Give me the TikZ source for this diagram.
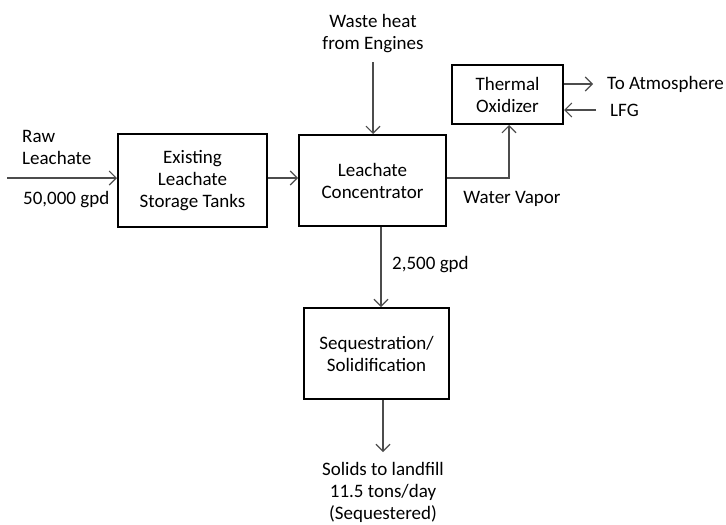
\documentclass[tikz,border=0pt]{standalone}
\usepackage{fontspec}
\setmainfont{Carlito}
\usetikzlibrary{arrows.meta}
\begin{document}
\begin{tikzpicture}[x=1pt,y=-1pt,
  font=\fontsize{19}{22}\selectfont,
  procbox/.style={draw=black,line width=2pt,align=center,inner sep=0pt},
  flow/.style={draw=black!70,line width=1.1pt,-{Straight Barb[length=7pt,width=14pt,line width=1.1pt]}},
  lbl/.style={align=center,inner sep=0pt}]
\useasboundingbox (0,0) rectangle (726,525);
% process boxes
\node[procbox,minimum width=149pt,minimum height=93pt] (tanks) at (192.5,180.5) {Existing\\Leachate\\Storage Tanks};
\node[procbox,minimum width=147pt,minimum height=91pt] (conc) at (372.5,180.5) {Leachate\\Concentrator};
\node[procbox,minimum width=111pt,minimum height=59pt] (tox) at (507.5,94.5) {Thermal\\Oxidizer};
\node[procbox,minimum width=145pt,minimum height=91pt] (seq) at (376.5,353.5) {Sequestration/\\Solidification};
% free ends of the connectors
\coordinate (rawin) at (7,178);
\coordinate (heat) at (373,62);
\coordinate (atm) at (593,84);
\coordinate (lfg) at (596,110);
\coordinate (vap) at (509,178);
\coordinate (solid) at (383,452);
% labels
\node[lbl,anchor=west,align=left] (rawlbl) at (22,147) {Raw\\Leachate};
\node[lbl,anchor=west] (gpd1) at (23,200) {50,000 gpd};
\node[lbl] (heatlbl) at (373,34) {Waste heat\\from Engines};
\node[lbl,anchor=west] (atmlbl) at (607,84) {To Atmosphere};
\node[lbl,anchor=west] (lfglbl) at (610,110) {LFG};
\node[lbl] (vaplbl) at (512,199) {Water Vapor};
\node[lbl,anchor=west] (gpd2) at (392,265) {2,500 gpd};
\node[lbl] (solidlbl) at (383,492) {Solids to landfill\\11.5 tons/day\\(Sequestered)};
% connectors
\draw[flow] (rawin) -- (tanks.west|-rawin);
\draw[flow] (tanks.east|-rawin) -- (conc.west|-rawin);
\draw[flow] (heat) -- (conc.north-|heat);
\draw[flow] (conc.east|-vap) -- (vap) -- (tox.south-|vap);
\draw[flow] (tox.east|-atm) -- (atm);
\draw[flow] (lfg) -- (tox.east|-lfg);
\draw[flow] (conc.south-|381,0) -- (seq.north-|381,0);
\draw[flow] (seq.south-|solid) -- (solid);
\end{tikzpicture}
\end{document}
